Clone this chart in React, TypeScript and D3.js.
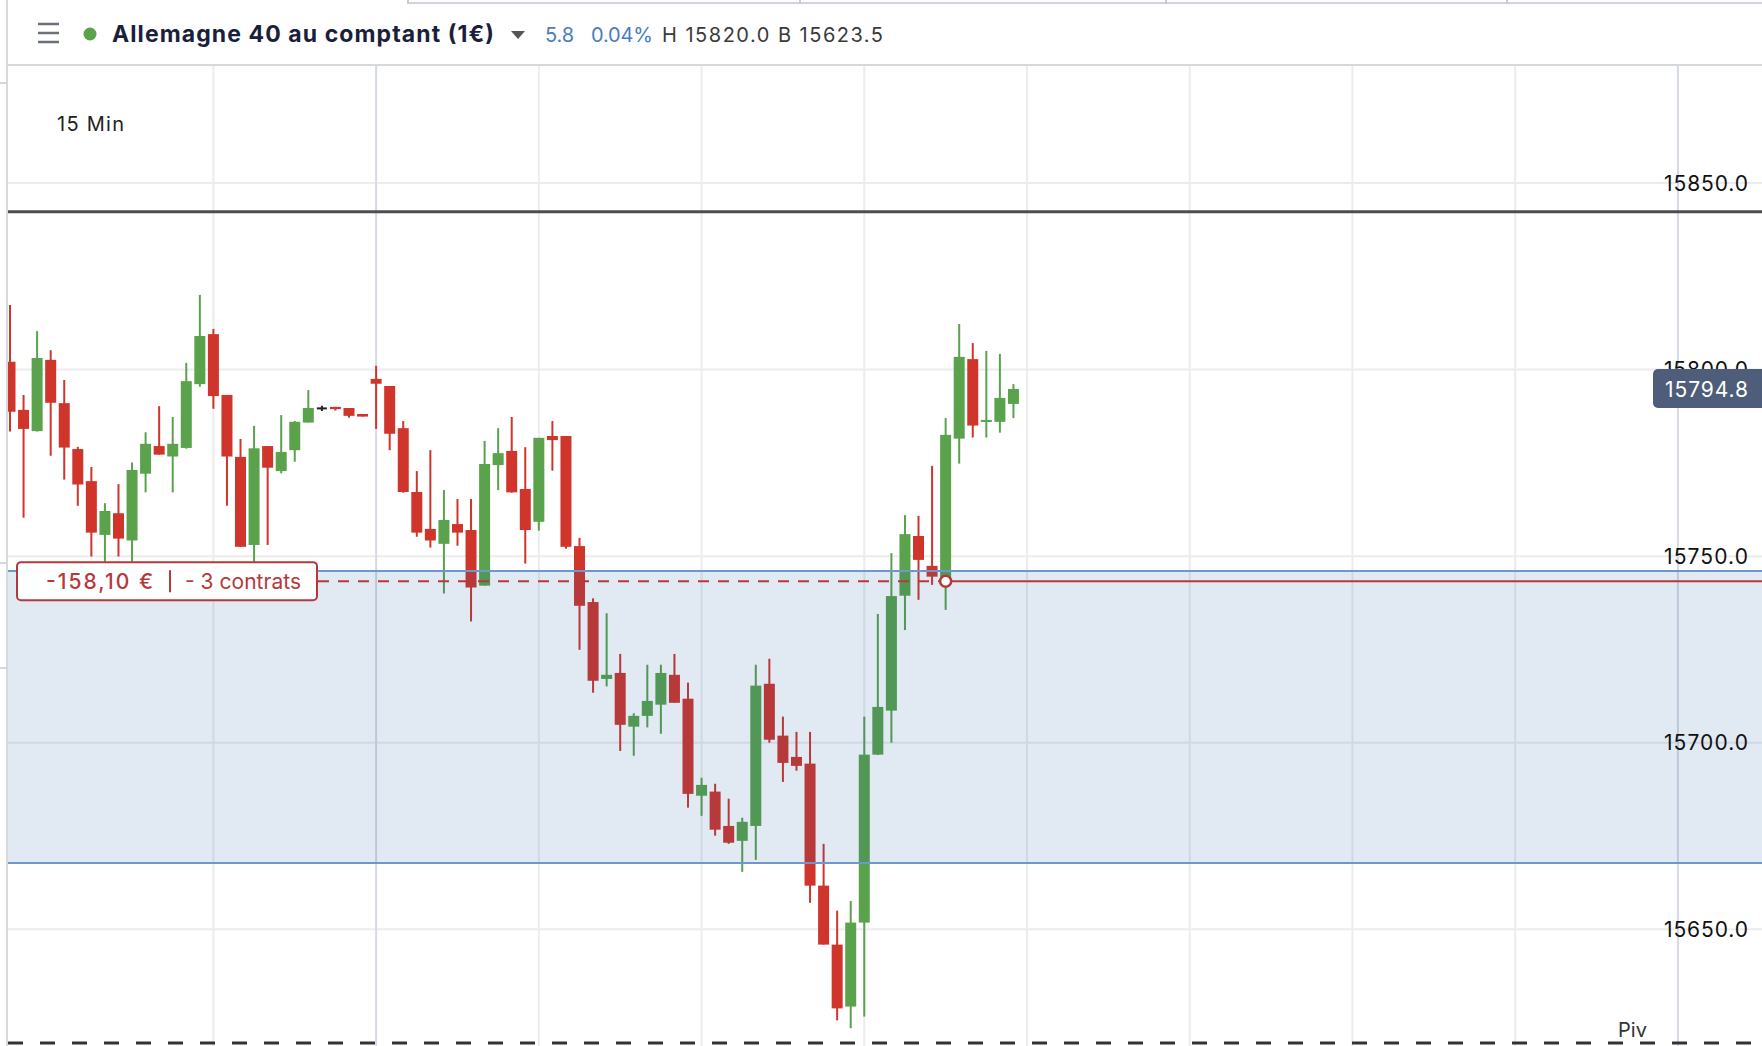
import React, { useRef, useEffect } from 'react';
import * as d3 from 'd3';

// 15 min candles (index 0 = leftmost, partly clipped)
const opens = [
  15802.1, 15789.2, 15783.5, 15802.6, 15791.0, 15778.7, 15770.1, 15755.7, 15761.5, 15754.2,
  15772.1, 15779.5, 15776.7, 15779.0, 15796.1, 15809.5, 15793.2, 15776.6, 15753.0, 15779.5,
  15772.8, 15778.4, 15785.8, 15789.6, 15790.0, 15789.7, 15788.1, 15797.5, 15795.6, 15784.3,
  15767.2, 15757.3, 15753.3, 15758.6, 15757.0, 15742.1, 15774.4, 15778.2, 15768.0, 15759.2,
  15782.2, 15782.2, 15752.7, 15737.7, 15717.1, 15718.7, 15704.3, 15707.2, 15710.2, 15718.2,
  15711.8, 15685.8, 15686.9, 15677.7, 15673.7, 15677.7, 15715.8, 15701.9, 15696.2, 15694.4,
  15661.7, 15645.9, 15629.3, 15651.8, 15696.8, 15708.6, 15739.4, 15755.4, 15747.4, 15743.4,
  15781.5, 15802.8, 15786.2, 15786.0, 15790.8
];
const highs = [
  15817.3, 15793.2, 15810.3, 15805.2, 15797.2, 15779.3, 15773.9, 15764.2, 15769.3, 15775.1,
  15783.2, 15790.2, 15787.3, 15801.8, 15820.0, 15810.9, 15793.2, 15781.4, 15784.9, 15779.5,
  15787.8, 15786.2, 15794.5, 15790.3, 15790.0, 15789.7, 15788.1, 15801.0, 15795.6, 15786.2,
  15772.8, 15778.4, 15767.7, 15765.3, 15765.3, 15780.9, 15784.3, 15787.3, 15779.2, 15781.7,
  15786.2, 15782.2, 15754.9, 15738.7, 15734.7, 15723.8, 15707.9, 15720.9, 15720.9, 15723.8,
  15716.1, 15690.6, 15689.0, 15685.0, 15679.9, 15720.9, 15722.5, 15707.0, 15702.9, 15702.9,
  15672.9, 15655.0, 15657.6, 15707.0, 15734.5, 15750.8, 15761.0, 15760.8, 15774.2, 15787.0,
  15812.2, 15807.1, 15805.0, 15804.2, 15796.1
];
const lows = [
  15783.4, 15760.3, 15783.4, 15776.9, 15770.5, 15763.5, 15749.9, 15744.5, 15749.9, 15748.1,
  15767.1, 15777.2, 15767.1, 15778.8, 15795.4, 15789.5, 15763.5, 15752.5, 15746.3, 15753.0,
  15772.2, 15775.3, 15785.8, 15788.9, 15789.0, 15787.1, 15787.4, 15784.1, 15778.4, 15767.0,
  15755.2, 15752.3, 15740.0, 15752.8, 15732.5, 15742.1, 15767.7, 15767.0, 15748.0, 15756.8,
  15772.9, 15752.0, 15724.9, 15713.4, 15715.1, 15697.8, 15696.5, 15704.1, 15702.4, 15710.7,
  15682.6, 15680.4, 15675.1, 15672.9, 15665.4, 15668.6, 15700.0, 15689.5, 15692.5, 15657.1,
  15645.9, 15625.6, 15623.5, 15626.6, 15696.7, 15700.0, 15730.2, 15738.3, 15742.3, 15735.6,
  15774.8, 15781.8, 15781.8, 15783.1, 15787.0
];
const closes = [
  15788.7, 15784.1, 15803.1, 15791.1, 15779.1, 15769.2, 15756.3, 15762.1, 15754.7, 15773.1,
  15780.1, 15777.2, 15780.1, 15796.9, 15809.0, 15792.9, 15776.7, 15752.5, 15778.9, 15773.7,
  15777.9, 15786.0, 15789.7, 15789.6, 15789.4, 15787.6, 15787.4, 15796.2, 15782.8, 15767.2,
  15756.3, 15754.2, 15759.7, 15756.3, 15741.6, 15774.7, 15777.6, 15767.1, 15757.0, 15781.7,
  15781.1, 15752.5, 15736.7, 15716.6, 15718.2, 15704.8, 15707.2, 15711.2, 15718.7, 15710.7,
  15686.3, 15688.7, 15676.7, 15673.2, 15678.8, 15715.3, 15700.8, 15694.6, 15693.8, 15661.7,
  15645.9, 15628.8, 15651.8, 15696.8, 15709.6, 15739.3, 15755.9, 15749.0, 15744.5, 15782.5,
  15803.4, 15785.0, 15786.5, 15792.4, 15794.8
];

const priceTicks = [15650, 15700, 15750, 15800, 15850];
const gridSlots = [15, 27, 39, 51, 63, 75, 87, 99, 111, 123];
const daySlots = [27, 123];

const stopLevel = 15842.3;
const zoneTop = 15746.0;
const zoneBottom = 15667.8;
const entryLevel = 15743.3;
const entrySlot = 69;
const pivotLevel = 15619.5;
const lastPrice = 15794.8;

const title = 'Allemagne 40 au comptant (1€)';
const changeAbs = '5.8';
const changePct = '0.04%';
const highLow = 'H 15820.0 B 15623.5';
const interval = '15 Min';
const pnlText = '-158,10 €';
const sizeText = '- 3 contrats';

const UP = '#5aa24b';
const DOWN = '#d0352b';
const FONT = 'Inter, "Noto Sans", sans-serif';

const App: React.FC = () => {
  const ref = useRef<SVGSVGElement | null>(null);

  useEffect(() => {
    if (!ref.current) return;
    document.body.style.margin = '0';
    document.body.style.overflow = 'hidden';

    const width = 1762;
    const height = 1046;
    const left = 8;
    const top = 65;

    const svg = d3.select(ref.current);
    svg.selectAll('*').remove();
    svg.attr('width', width).attr('height', height);

    const x = d3.scaleLinear().domain([0, 74]).range([10, 10 + 74 * 13.56]);
    const y = d3.scaleLinear().domain([15650, 15850]).range([929.3, 183]);

    const candles = opens.map((o, i) => ({
      i, o, h: highs[i], l: lows[i], c: closes[i]
    }));

    svg.append('rect').attr('width', width).attr('height', height).attr('fill', '#fff');

    svg.append('clipPath').attr('id', 'plot')
      .append('rect')
      .attr('x', left).attr('y', top)
      .attr('width', width - left).attr('height', height - top);

    const plot = svg.append('g').attr('clip-path', 'url(#plot)');

    // grid
    plot.selectAll('line.hgrid')
      .data(priceTicks)
      .join('line')
      .attr('x1', left).attr('x2', width)
      .attr('y1', d => y(d)).attr('y2', d => y(d))
      .attr('stroke', '#ececee').attr('stroke-width', 2);

    plot.selectAll('line.vgrid')
      .data(gridSlots)
      .join('line')
      .attr('x1', d => x(d)).attr('x2', d => x(d))
      .attr('y1', top).attr('y2', height)
      .attr('stroke', d => daySlots.includes(d) ? '#d5d9e1' : '#ececee')
      .attr('stroke-width', 2);

    // candles
    const cg = plot.append('g');
    const color = (d: any) => d.c > d.o ? UP : d.c < d.o ? DOWN : '#222';

    cg.selectAll('rect.wick')
      .data(candles)
      .join('rect')
      .attr('x', d => x(d.i) - 1)
      .attr('y', d => y(d.h))
      .attr('width', 2)
      .attr('height', d => Math.max(1, y(d.l) - y(d.h)))
      .attr('fill', color);

    cg.selectAll('rect.body')
      .data(candles.filter(d => d.c !== d.o))
      .join('rect')
      .attr('x', d => x(d.i) - 5.5)
      .attr('y', d => y(Math.max(d.o, d.c)))
      .attr('width', 11)
      .attr('height', d => Math.max(2, Math.abs(y(d.o) - y(d.c))))
      .attr('fill', color);

    // doji cross
    cg.selectAll('rect.doji')
      .data(candles.filter(d => d.c === d.o))
      .join('rect')
      .attr('x', d => x(d.i) - 5)
      .attr('y', d => y(d.c) - 1)
      .attr('width', 10)
      .attr('height', 2)
      .attr('fill', '#222');

    // position zone (drawn over the candles, translucent)
    plot.append('rect')
      .attr('x', left).attr('width', width - left)
      .attr('y', y(zoneTop))
      .attr('height', y(zoneBottom) - y(zoneTop))
      .attr('fill', 'rgba(25, 85, 165, 0.13)');

    plot.selectAll('line.zone')
      .data([zoneTop, zoneBottom])
      .join('line')
      .attr('x1', left).attr('x2', width)
      .attr('y1', d => y(d)).attr('y2', d => y(d))
      .attr('stroke', '#6f97cf').attr('stroke-width', 2);

    // stop line
    plot.append('line')
      .attr('x1', left).attr('x2', width)
      .attr('y1', y(stopLevel)).attr('y2', y(stopLevel))
      .attr('stroke', '#4d4d4f').attr('stroke-width', 3);

    // entry line
    const ey = y(entryLevel);
    const ex = x(entrySlot);
    plot.append('line')
      .attr('x1', 318).attr('x2', ex)
      .attr('y1', ey).attr('y2', ey)
      .attr('stroke', '#b8383a').attr('stroke-width', 2)
      .attr('stroke-dasharray', '11 9');
    plot.append('line')
      .attr('x1', ex).attr('x2', width)
      .attr('y1', ey).attr('y2', ey)
      .attr('stroke', '#b8383a').attr('stroke-width', 2);
    plot.append('circle')
      .attr('cx', ex).attr('cy', ey).attr('r', 5.5)
      .attr('fill', '#fff').attr('stroke', '#b8383a').attr('stroke-width', 2.5);

    // pivot line
    plot.append('line')
      .attr('x1', left).attr('x2', width)
      .attr('y1', y(pivotLevel)).attr('y2', y(pivotLevel))
      .attr('stroke', '#333').attr('stroke-width', 3)
      .attr('stroke-dasharray', '15 17');

    svg.append('text')
      .attr('x', 1618).attr('y', y(pivotLevel) - 6)
      .attr('font-family', FONT).attr('font-size', 20).attr('fill', '#333')
      .attr('textLength', 29).attr('lengthAdjust', 'spacing')
      .text('Piv');

    // position label
    const lab = svg.append('g');
    lab.append('rect')
      .attr('x', 17).attr('y', ey - 19)
      .attr('width', 300).attr('height', 38).attr('rx', 4)
      .attr('fill', 'rgba(255,255,255,0.96)')
      .attr('stroke', '#b8383a').attr('stroke-width', 2);
    lab.append('text')
      .attr('x', 46).attr('y', ey).attr('dy', '0.36em')
      .attr('font-family', FONT).attr('font-size', 21).attr('font-weight', 500)
      .attr('fill', '#b8383a')
      .attr('textLength', 107).attr('lengthAdjust', 'spacing')
      .text(pnlText);
    lab.append('line')
      .attr('x1', 170).attr('x2', 170)
      .attr('y1', ey - 11).attr('y2', ey + 11)
      .attr('stroke', '#b8383a').attr('stroke-width', 2);
    lab.append('text')
      .attr('x', 185).attr('y', ey).attr('dy', '0.36em')
      .attr('font-family', FONT).attr('font-size', 21)
      .attr('fill', '#b8383a')
      .attr('textLength', 116).attr('lengthAdjust', 'spacing')
      .text(sizeText);

    // price axis labels
    svg.selectAll('text.tick')
      .data(priceTicks)
      .join('text')
      .attr('x', 1748).attr('y', d => y(d)).attr('dy', '0.36em')
      .attr('text-anchor', 'end')
      .attr('font-family', FONT).attr('font-size', 21).attr('fill', '#111')
      .attr('textLength', 84).attr('lengthAdjust', 'spacing')
      .text(d => d.toFixed(1));

    // last price tag
    const ly = y(lastPrice);
    svg.append('rect')
      .attr('x', 1653).attr('y', ly - 20)
      .attr('width', 115).attr('height', 39).attr('rx', 5)
      .attr('fill', '#4e5d79');
    svg.append('text')
      .attr('x', 1748).attr('y', ly).attr('dy', '0.36em')
      .attr('text-anchor', 'end')
      .attr('font-family', FONT).attr('font-size', 21).attr('fill', '#fff')
      .attr('textLength', 83).attr('lengthAdjust', 'spacing')
      .text(lastPrice.toFixed(1));

    svg.append('text')
      .attr('x', 57).attr('y', 131)
      .attr('font-family', FONT).attr('font-size', 20).attr('fill', '#222')
      .attr('textLength', 67).attr('lengthAdjust', 'spacing')
      .text(interval);

    // header
    const hd = svg.append('g');
    hd.append('line')
      .attr('x1', left).attr('x2', width).attr('y1', 65).attr('y2', 65)
      .attr('stroke', '#d5d9de').attr('stroke-width', 2);
    hd.append('line')
      .attr('x1', 408).attr('x2', width).attr('y1', 3).attr('y2', 3)
      .attr('stroke', '#cfd5da').attr('stroke-width', 2);
    hd.selectAll('line.div')
      .data([408, 800, 1166, 1507])
      .join('line')
      .attr('x1', d => d).attr('x2', d => d).attr('y1', 0).attr('y2', 4)
      .attr('stroke', '#c4cbd1').attr('stroke-width', 2);
    hd.append('line')
      .attr('x1', 7).attr('x2', 7).attr('y1', 0).attr('y2', height)
      .attr('stroke', '#d5d9de').attr('stroke-width', 2);
    hd.selectAll('line.stub')
      .data([83, 563, 668])
      .join('line')
      .attr('x1', 0).attr('x2', 7).attr('y1', d => d).attr('y2', d => d)
      .attr('stroke', '#d5d9de').attr('stroke-width', 2);

    hd.selectAll('line.burger')
      .data([24, 33, 42])
      .join('line')
      .attr('x1', 38).attr('x2', 59).attr('y1', d => d).attr('y2', d => d)
      .attr('stroke', '#6b6f7a').attr('stroke-width', 2.5);
    hd.append('circle').attr('cx', 90).attr('cy', 34).attr('r', 6.5).attr('fill', UP);
    hd.append('text')
      .attr('x', 112).attr('y', 42)
      .attr('font-family', FONT).attr('font-size', 23).attr('font-weight', 700)
      .attr('fill', '#1a2039')
      .attr('textLength', 382).attr('lengthAdjust', 'spacing')
      .text(title);
    hd.append('path')
      .attr('d', 'M511,31 L525,31 L518,39 Z')
      .attr('fill', '#555');
    hd.append('text')
      .attr('x', 545).attr('y', 42)
      .attr('font-family', FONT).attr('font-size', 20).attr('fill', '#4a7cbf')
      .attr('textLength', 29).attr('lengthAdjust', 'spacing')
      .text(changeAbs);
    hd.append('text')
      .attr('x', 591).attr('y', 42)
      .attr('font-family', FONT).attr('font-size', 20).attr('fill', '#4a7cbf')
      .attr('textLength', 62).attr('lengthAdjust', 'spacing')
      .text(changePct);
    hd.append('text')
      .attr('x', 662).attr('y', 42)
      .attr('font-family', FONT).attr('font-size', 20).attr('fill', '#3a3a3a')
      .attr('textLength', 221).attr('lengthAdjust', 'spacing')
      .text(highLow);
  }, []);

  return (
    <div style={{ position: 'fixed', left: 0, top: 0 }}>
      <svg ref={ref} style={{ display: 'block' }} />
    </div>
  );
};

export default App;
